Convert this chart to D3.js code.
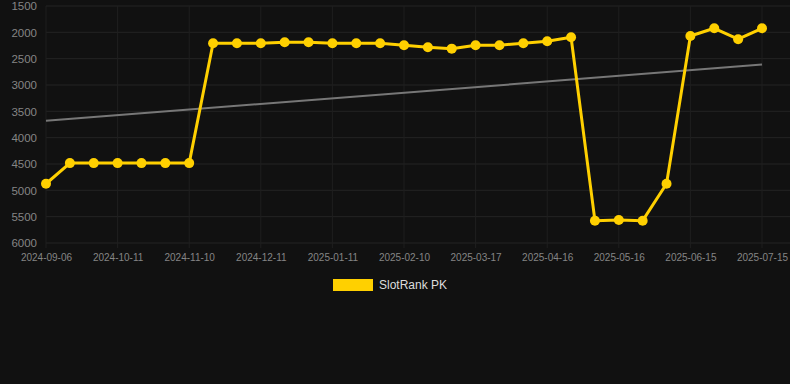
<!DOCTYPE html>
<html>
<head>
<meta charset="utf-8">
<script src="https://cdn.jsdelivr.net/npm/d3@7"></script>
<style>
  html, body { margin: 0; padding: 0; background: #111111; }
  #chart { width: 790px; height: 384px; }
  text { font-family: "Liberation Sans", Arial, sans-serif; }
</style>
</head>
<body>
<div id="chart"></div>
<script>
// dates on the category axis (every third one is labelled)
let dates = ["2024-09-06","2024-09-18","2024-09-30","2024-10-11","2024-10-21","2024-10-31",
  "2024-11-10","2024-11-20","2024-12-01","2024-12-11","2024-12-21","2025-01-01",
  "2025-01-11","2025-01-21","2025-01-31","2025-02-10","2025-02-22","2025-03-05",
  "2025-03-17","2025-03-27","2025-04-06","2025-04-16","2025-04-26","2025-05-06",
  "2025-05-16","2025-05-26","2025-06-05","2025-06-15","2025-06-25","2025-07-05","2025-07-15"]

// SlotRank PK rank
let rank = [4875, 4483, 4483, 4483, 4483, 4483, 4483, 2207, 2207, 2207, 2188, 2188,
  2207, 2207, 2207, 2245, 2283, 2310, 2245, 2245, 2207, 2169, 2093,
  5576, 5563, 5576, 4875, 2069, 1923, 2131, 1923]

// trend line, first and last value
let trend = [3680, 2613]

let yTicks = [1500, 2000, 2500, 3000, 3500, 4000, 4500, 5000, 5500, 6000]

let width = 790
let height = 384
let margin = {top: 6, right: 28, bottom: 141, left: 46}

let svg = d3.select('#chart')
    .append('svg')
    .attr('width', width)
    .attr('height', height)

let x = d3.scalePoint()
    .domain(dates)
    .range([margin.left, width - margin.right])

let y = d3.scaleLinear()
    .domain([1500, 6000])
    .range([margin.top, height - margin.bottom])

// grid
let grid = svg.append('g')
grid.selectAll('line.h')
    .data(yTicks)
    .enter()
    .append('line')
    .attr('x1', 46).attr('x2', 790)
    .attr('y1', d => y(d)).attr('y2', d => y(d))
    .attr('stroke', '#242424')
    .attr('stroke-width', 1)

let xTicks = dates.filter((d, i) => i % 3 == 0)
grid.selectAll('line.v')
    .data(xTicks)
    .enter()
    .append('line')
    .attr('x1', d => x(d)).attr('x2', d => x(d))
    .attr('y1', margin.top).attr('y2', height - margin.bottom + 5)
    .attr('stroke', '#1f1f1f')
    .attr('stroke-width', 1)

// y axis labels
let yAxis = svg.append('g')
    .attr('transform', "translate(37,0)")
    .call(d3.axisLeft(y).tickValues(yTicks).tickSize(0).tickPadding(0).tickFormat(d3.format('d')))
yAxis.select('.domain').remove()
yAxis.selectAll('text')
    .attr('fill', '#858585')
    .style('font-size', '11.5px')

// x axis labels
let xAxis = svg.append('g')
    .attr('transform', "translate(0," + (height - margin.bottom) + ")")
    .call(d3.axisBottom(x).tickValues(xTicks).tickSize(0).tickPadding(11))
xAxis.select('.domain').remove()
xAxis.selectAll('text')
    .attr('fill', '#858585')
    .style('font-size', '10px')

// trend
svg.append('line')
    .attr('x1', x(dates[0])).attr('x2', x(dates[dates.length - 1]))
    .attr('y1', y(trend[0])).attr('y2', y(trend[1]))
    .attr('stroke', '#777777')
    .attr('stroke-width', 2)

// series
let line = d3.line()
    .x((d, i) => x(dates[i]))
    .y(d => y(d))

svg.append('path')
    .datum(rank)
    .attr('d', line)
    .attr('fill', 'none')
    .attr('stroke', '#ffd000')
    .attr('stroke-width', 3)
    .attr('stroke-linejoin', 'round')

svg.selectAll('circle.pt')
    .data(rank)
    .enter()
    .append('circle')
    .attr('cx', (d, i) => x(dates[i]))
    .attr('cy', d => y(d))
    .attr('r', 5)
    .attr('fill', '#ffd000')

// legend
let legend = svg.append('g')
legend.append('rect')
    .attr('x', 333).attr('y', 279)
    .attr('width', 40).attr('height', 12)
    .attr('fill', '#ffd000')
legend.append('text')
    .attr('x', 379).attr('y', 289)
    .attr('fill', '#dddddd')
    .style('font-size', '12px')
    .text('SlotRank PK')
</script>
</body>
</html>
